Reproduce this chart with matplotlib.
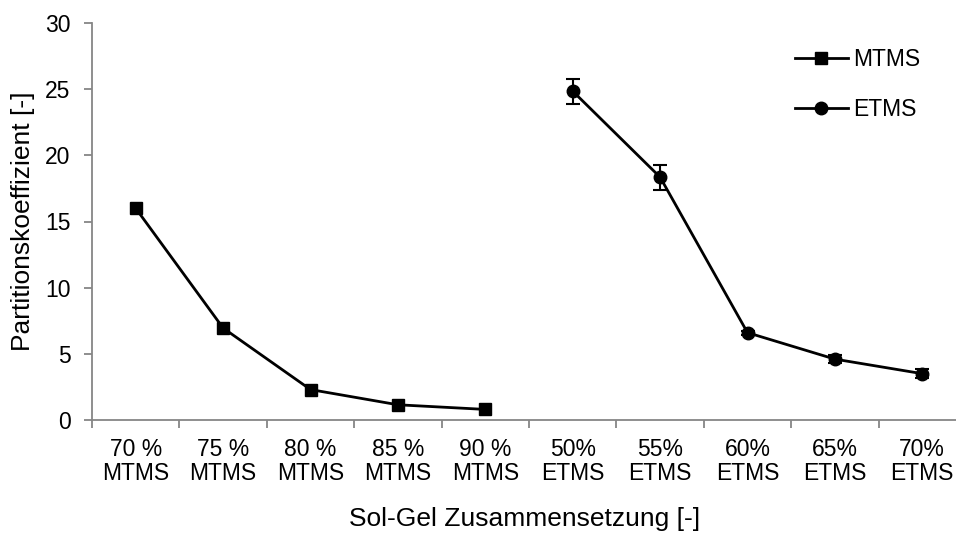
import matplotlib
matplotlib.use("Agg")
import matplotlib.pyplot as plt
from matplotlib.lines import Line2D
import numpy as np

categories = ["70 %\nMTMS", "75 %\nMTMS", "80 %\nMTMS", "85 %\nMTMS", "90 %\nMTMS",
              "50%\nETMS", "55%\nETMS", "60%\nETMS", "65%\nETMS", "70%\nETMS"]
mtms_values = [16.0, 6.95, 2.3, 1.15, 0.8]
etms_values = [24.85, 18.35, 6.6, 4.6, 3.5]
etms_errors = [0.95, 0.95, 0.15, 0.3, 0.35]

plt.rcParams['font.family'] = ['Liberation Sans', 'DejaVu Sans']
plt.rcParams['font.size'] = 16.5

fig = plt.figure(figsize=(9.56, 5.34), dpi=100)
ax = fig.add_axes([92/956, 1 - 420/534, 874/956, 397/534])

x_m = np.arange(0, 5)
x_e = np.arange(5, 10)
ax.plot(x_m, mtms_values, color='black', lw=2, marker='s', ms=9, label='MTMS')
ax.errorbar(x_e, etms_values, yerr=etms_errors, color='black', lw=2, marker='o', ms=9,
            capsize=5, elinewidth=1.5, capthick=1.5, label='ETMS')

ax.set_xlim(-0.5, 9.5)
ax.set_ylim(0, 30)
ax.set_yticks(np.arange(0, 31, 5))
ax.set_xticks(np.arange(10))
ax.set_xticklabels(categories, linespacing=1.07)
ax.set_xticks(np.arange(-0.5, 10, 1), minor=True)
ax.tick_params(axis='x', which='major', length=0, pad=13)
ax.tick_params(axis='x', which='minor', length=6, color='#868686', width=1.3)
ax.tick_params(axis='y', length=6, color='#868686', width=1.3, pad=9.5)

for s in ['top', 'right']:
    ax.spines[s].set_visible(False)
for s in ['left', 'bottom']:
    ax.spines[s].set_color('#868686')
    ax.spines[s].set_linewidth(1.3)

ax.set_ylabel("Partitionskoeffizient [-]", fontsize=19)
ax.yaxis.set_label_coords(-(92 - 23) / 874, 0.5, transform=ax.transAxes)
ax.yaxis.label.set_va('center')
ax.set_xlabel("Sol-Gel Zusammensetzung [-]", fontsize=19)
ax.xaxis.set_label_coords((525 - 92) / 874, -(519 - 420) / 397, transform=ax.transAxes)
ax.xaxis.label.set_va('center')

h = [Line2D([], [], color='black', lw=2, marker='s', ms=9),
     Line2D([], [], color='black', lw=2, marker='o', ms=9)]
fig.legend(h, ['MTMS', 'ETMS'], loc='upper left', bbox_to_anchor=(795/956, 1 - 48/534),
           frameon=False, labelspacing=1.19, handlelength=2.3, handletextpad=0.25,
           borderpad=0, borderaxespad=0)

fig.savefig("out.png", dpi=100)
